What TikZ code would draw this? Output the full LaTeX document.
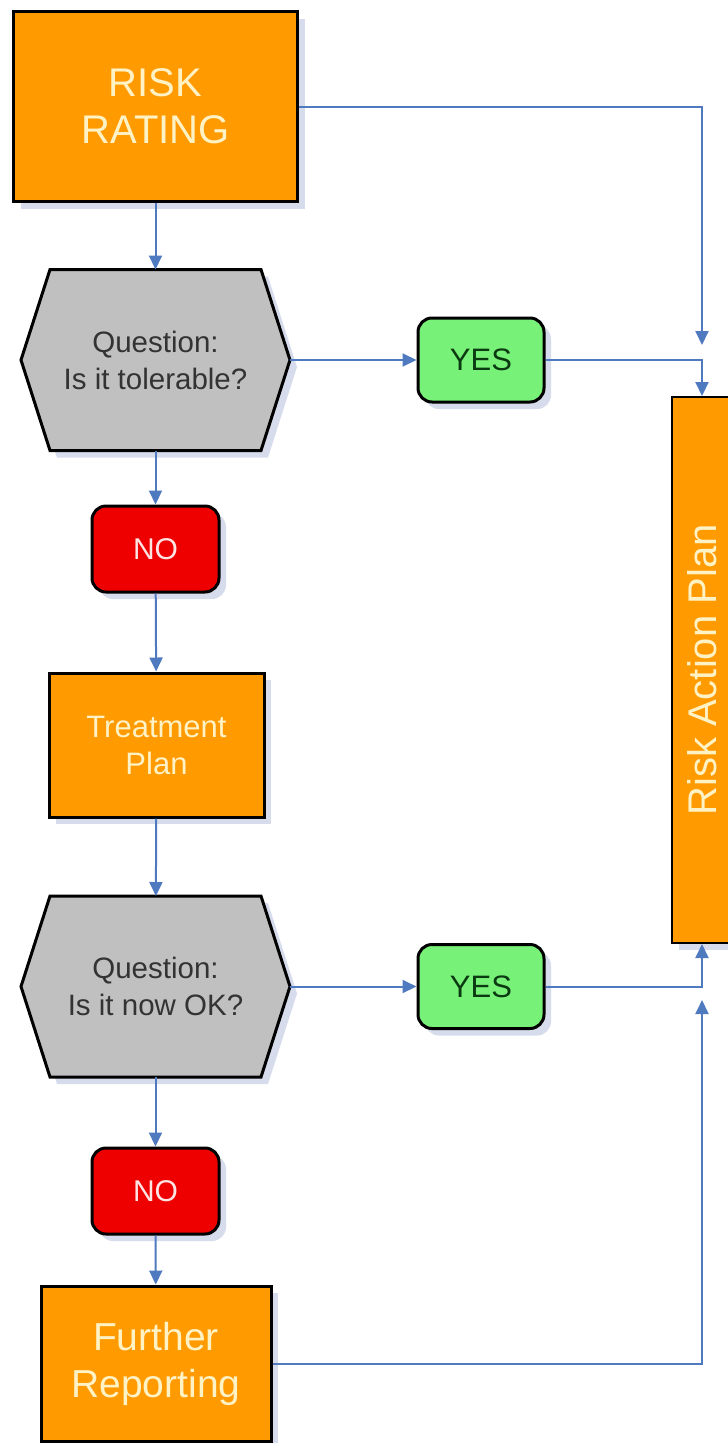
\documentclass[tikz,border=0pt]{standalone}
\usepackage{fontspec}
\usepackage{graphicx}
\setmainfont{Liberation Sans}
\usetikzlibrary{arrows.meta,shadows,calc}
\pgfdeclarelayer{background}
\pgfsetlayers{background,main}

\definecolor{boxorange}{HTML}{FF9A00}
\definecolor{boxgrey}{HTML}{C0C0C0}
\definecolor{boxgreen}{HTML}{77F177}
\definecolor{boxred}{HTML}{EE0000}
\definecolor{linkblue}{HTML}{4F7AC0}
\definecolor{shadowblue}{HTML}{D6DCEC}
\definecolor{paletext}{HTML}{FFF2C4}
\definecolor{darktext}{HTML}{333333}
\definecolor{yestext}{HTML}{0B3A12}
\definecolor{notext}{HTML}{FFE4E4}

\begin{document}
\begin{tikzpicture}[x=1pt,y=-1pt,
  softshadow/.style={drop shadow={shadow xshift=7pt, shadow yshift=-7pt, fill=shadowblue, opacity=1}},
  boxbase/.style={draw=black, line width=3pt, align=center, inner sep=0pt, softshadow},
  taskbox/.style={boxbase, fill=boxorange, text=paletext},
  yesbox/.style={boxbase, fill=boxgreen, text=yestext, rounded corners=14pt,
                 minimum width=126pt, minimum height=84pt, font=\fontsize{31pt}{36pt}\selectfont},
  nobox/.style={boxbase, fill=boxred, text=notext, rounded corners=14pt,
                minimum width=127pt, minimum height=86pt, font=\fontsize{30pt}{36pt}\selectfont},
  askbox/.style={rectangle, draw=none, outer sep=0pt, inner sep=0pt, align=center, text=darktext,
                 minimum width=269pt, minimum height=181pt, font=\fontsize{29.5pt}{37pt}\selectfont},
  link/.style={draw=linkblue, line width=2pt, -{Triangle[length=14pt,width=13pt]}},
]
\useasboundingbox (0,0) rectangle (728,1443);

% main column
\node[taskbox, minimum width=284pt, minimum height=190pt,
      font=\fontsize{40pt}{47pt}\selectfont] (risk) at (155.5,106.5) {RISK\\RATING};
\node[askbox] (ask1) at (155.5,360) {Question:\\Is it tolerable?};
\node[yesbox] (yes1) at (481,360) {YES};
\node[nobox] (no1) at (155.5,549) {NO};
\node[taskbox, minimum width=215pt, minimum height=144pt,
      font=\fontsize{31pt}{37pt}\selectfont] (treat) at (156.5,745) {Treatment\\Plan};
\node[askbox] (ask2) at (155.5,986.5) {Question:\\Is it now OK?};
\node[yesbox] (yes2) at (481,986.5) {YES};
\node[nobox] (no2) at (155.5,1191) {NO};
\node[taskbox, minimum width=230pt, minimum height=155pt,
      font=\fontsize{39pt}{47pt}\selectfont] (further) at (156,1363.5) {Further\\Reporting};

% side column
\node[taskbox, line width=2pt, minimum width=60pt, minimum height=546pt,
      font=\fontsize{40pt}{47pt}\selectfont] (rap) at (702,670) {\rotatebox{90}{Risk Action Plan}};

% page and hexagonal question shapes, behind everything else
\begin{pgfonlayer}{background}
  \fill[white] (0,0) rectangle (728,1443);
  \foreach \h in {ask1,ask2}{
    \filldraw[fill=boxgrey, draw=black, line width=3pt, line join=miter, softshadow]
      (\h.west) -- ([xshift=29pt]\h.north west) -- ([xshift=-29pt]\h.north east)
      -- (\h.east) -- ([xshift=-29pt]\h.south east) -- ([xshift=29pt]\h.south west) -- cycle;
  }
\end{pgfonlayer}

% free ends of the open arrows
\coordinate (top-in) at (702,345);
\coordinate (bottom-in) at (702,1000);

% connectors
\draw[link] (risk) -- (ask1);
\draw[link] (ask1) -- (no1);
\draw[link] (no1) -- (treat);
\draw[link] (treat) -- (ask2);
\draw[link] (ask2) -- (no2);
\draw[link] (no2) -- (further);
\draw[link] (ask1.east) -- (yes1.west);
\draw[link] (ask2.east) -- (yes2.west);
\draw[link] (risk.east) -| (top-in);
\draw[link] (yes1.east) -| (rap.north);
\draw[link] (yes2.east) -| (rap.south);
\draw[link] (further.east) -| (bottom-in);
\end{tikzpicture}
\end{document}
